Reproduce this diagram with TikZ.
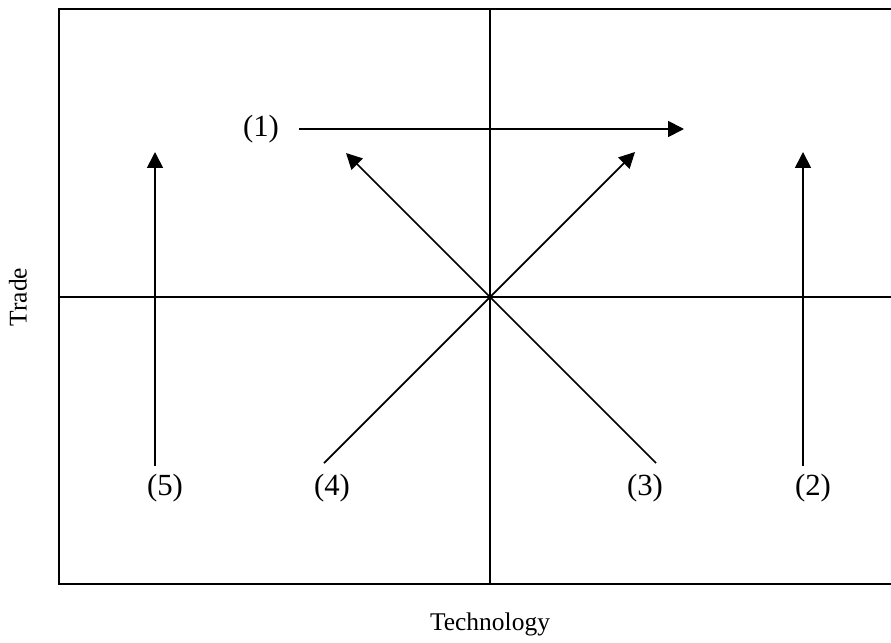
\documentclass[tikz,border=0pt]{standalone}
\usepackage{fontspec}
\setmainfont{Liberation Serif}
\usetikzlibrary{arrows.meta}

\begin{document}
\begin{tikzpicture}[x=0.02cm, y=-0.02cm, >={Triangle[length=9pt, width=9pt]},
    frame/.style={line width=1.2pt},
    arr/.style={->, line width=1pt},
    lbl/.style={font=\fontsize{17.5}{20}\selectfont, inner sep=0pt},
    axis/.style={font=\fontsize{14.5}{17}\selectfont, inner sep=0pt}]
  \useasboundingbox (0,0) rectangle (891,642);
  % quadrants
  \draw[frame] (59,9) rectangle (897,584);
  \draw[line width=1pt] (490,9) -- (490,584);
  \draw[line width=1pt] (59,297) -- (897,297);
  \coordinate (o) at (490,297);
  % labels
  \node[lbl] (n1) at (261,129) {(1)};
  \node[lbl] (n2) at (813,488) {(2)};
  \node[lbl] (n3) at (645,488) {(3)};
  \node[lbl] (n4) at (332,488) {(4)};
  \node[lbl] (n5) at (165,488) {(5)};
  % arrow ends
  \coordinate (s1) at (299,129);  \coordinate (t1) at (684,129);
  \coordinate (s2) at (803,466);  \coordinate (t2) at (803,152);
  \coordinate (s3) at (656,463);  \coordinate (t3) at (346,153);
  \coordinate (s4) at (324,463);  \coordinate (t4) at (635,152);
  \coordinate (s5) at (155,466);  \coordinate (t5) at (155,152);
  \foreach \i in {1,...,5}{
    \draw[arr] (s\i) -- (t\i);
  }
  \node[axis] (tech) at (490,624) {Technology};
  \node[axis, rotate=90] (trade) at (18,297) {Trade};
\end{tikzpicture}
\end{document}
